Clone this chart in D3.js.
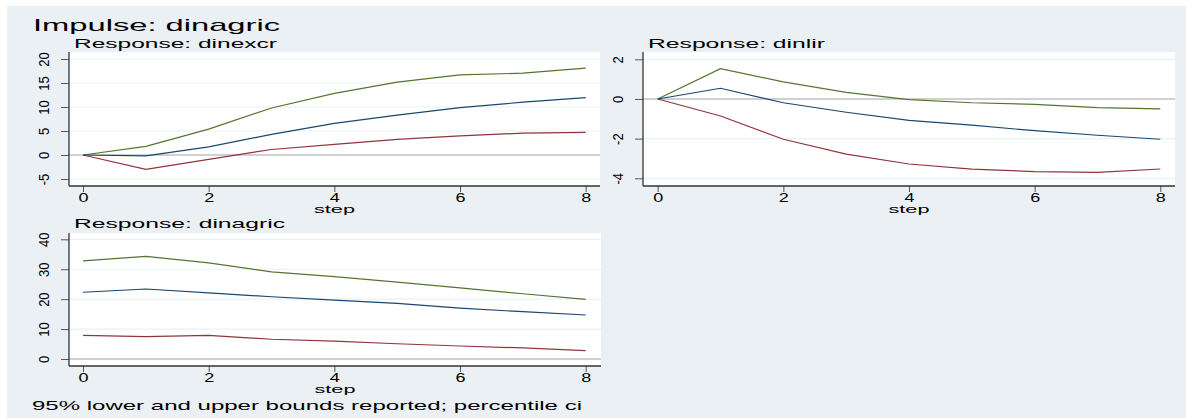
<!DOCTYPE html>
<html>
<head>
<meta charset="utf-8">
<script src="https://cdn.jsdelivr.net/npm/d3@7"></script>
<style>
  body { margin: 0; background: #fff; }
  svg { display: block; font-family: "Liberation Sans", Arial, sans-serif; }
</style>
</head>
<body>
<svg width="1186" height="419"></svg>
<script>
// impulse: dinagric, steps 0..8
const steps = [0, 1, 2, 3, 4, 5, 6, 7, 8];

const dinexcrIrf   = [0, -0.2, 1.7, 4.3, 6.6, 8.3, 9.85, 11.0, 11.95];
const dinexcrLower = [0, -3.0, -0.9, 1.15, 2.2, 3.25, 4.0, 4.55, 4.7];
const dinexcrUpper = [0, 1.8, 5.4, 9.8, 12.85, 15.2, 16.7, 17.05, 18.1];

const dinlirIrf   = [0, 0.54, -0.19, -0.67, -1.08, -1.32, -1.6, -1.83, -2.03];
const dinlirLower = [0, -0.86, -2.03, -2.78, -3.28, -3.54, -3.66, -3.7, -3.53];
const dinlirUpper = [0, 1.53, 0.86, 0.33, -0.03, -0.19, -0.27, -0.44, -0.5];

const dinagricIrf   = [22.3, 23.4, 22.1, 20.8, 19.7, 18.6, 17.0, 15.8, 14.7];
const dinagricLower = [7.9, 7.5, 7.9, 6.6, 6.0, 5.1, 4.35, 3.7, 2.8];
const dinagricUpper = [32.8, 34.3, 32.1, 29.1, 27.5, 25.7, 23.8, 21.8, 19.9];

const xTicks = [0, 2, 4, 6, 8];
const panels = [
  { title: "Response: dinexcr", tw: 203, ty: 48, irf: dinexcrIrf, lo: dinexcrLower, hi: dinexcrUpper,
    yTicks: [-5, 0, 5, 10, 15, 20], yTickLabels: ["-5", "0", "5", "10", "15", "20"],
    box: { x0: 69, x1: 600, y0: 52, y1: 186 }, xr: [83, 585.7], yd: [-5, 20], yr: [179, 59] },
  { title: "Response: dinlir", tw: 177, ty: 48, irf: dinlirIrf, lo: dinlirLower, hi: dinlirUpper,
    yTicks: [-4, -2, 0, 2], yTickLabels: ["-4", "-2", "0", "2"],
    box: { x0: 643, x1: 1175, y0: 52, y1: 186 }, xr: [657.7, 1160.3], yd: [-4, 2], yr: [178.3, 59.3] },
  { title: "Response: dinagric", tw: 211, ty: 228, irf: dinagricIrf, lo: dinagricLower, hi: dinagricUpper,
    yTicks: [0, 10, 20, 30, 40], yTickLabels: ["0", "10", "20", "30", "40"],
    box: { x0: 69, x1: 601, y0: 233, y1: 366 }, xr: [83, 585.7], yd: [0, 40], yr: [359, 239.3] }
];

const colors = { irf: "#1a476f", lo: "#90353b", hi: "#55752f" };

const svg = d3.select("svg");
svg.append("rect").attr("x", 7).attr("y", 6).attr("width", 1179).attr("height", 412).attr("fill", "#eaf0f3");

svg.append("text").attr("x", 33).attr("y", 31).attr("font-size", 17).attr("fill", "#000")
  .attr("textLength", 247).attr("lengthAdjust", "spacingAndGlyphs")
  .text("Impulse: dinagric");
svg.append("text").attr("x", 32).attr("y", 410).attr("font-size", 13).attr("fill", "#000")
  .attr("textLength", 550).attr("lengthAdjust", "spacingAndGlyphs")
  .text("95% lower and upper bounds reported; percentile ci");

panels.forEach(function (p) {
  const b = p.box;
  const x = d3.scaleLinear().domain([0, 8]).range(p.xr);
  const y = d3.scaleLinear().domain(p.yd).range(p.yr);
  const g = svg.append("g");

  g.append("rect").attr("x", b.x0).attr("y", b.y0).attr("width", b.x1 - b.x0).attr("height", b.y1 - b.y0)
    .attr("fill", "#fff");

  // grid
  g.selectAll(".grid").data(p.yTicks).enter().append("line")
    .attr("x1", b.x0).attr("x2", b.x1)
    .attr("y1", d => y(d)).attr("y2", d => y(d))
    .attr("stroke", "#eaf2f3").attr("stroke-width", 1.2);

  // zero line
  g.append("line").attr("x1", b.x0).attr("x2", b.x1).attr("y1", y(0)).attr("y2", y(0))
    .attr("stroke", "#c4c4c4").attr("stroke-width", 1.6);

  const line = d3.line().x((d, i) => x(steps[i])).y(d => y(d));
  [["lo", p.lo], ["hi", p.hi], ["irf", p.irf]].forEach(function (s) {
    g.append("path").datum(s[1]).attr("d", line).attr("fill", "none")
      .attr("stroke", colors[s[0]]).attr("stroke-width", 1.2);
  });

  // y axis
  const ya = g.append("g").attr("transform", "translate(" + b.x0 + ",0)")
    .call(d3.axisLeft(y).tickValues(p.yTicks).tickSize(8).tickPadding(3)
      .tickFormat((d, i) => p.yTickLabels[i]));
  ya.select(".domain").remove();
  ya.selectAll(".tick line").attr("stroke", "#555");
  ya.selectAll(".tick text").attr("font-size", 13).attr("fill", "#000")
    .attr("text-anchor", "middle").attr("x", 0).attr("y", 0).attr("dy", 0)
    .attr("dominant-baseline", "middle")
    .attr("transform", "translate(-24,0) scale(1.1,1) rotate(-90)");

  // x axis
  const xa = g.append("g").attr("transform", "translate(0," + b.y1 + ")")
    .call(d3.axisBottom(x).tickValues(xTicks).tickSize(6).tickPadding(1));
  xa.select(".domain").remove();
  xa.selectAll(".tick line").attr("stroke", "#555");
  xa.selectAll(".tick text").attr("font-size", 12).attr("fill", "#000")
    .attr("transform", "scale(1.5,1)");

  g.append("line").attr("x1", b.x0).attr("x2", b.x0).attr("y1", b.y0).attr("y2", b.y1)
    .attr("stroke", "#333").attr("stroke-width", 1.3);
  g.append("line").attr("x1", b.x0).attr("x2", b.x1).attr("y1", b.y1).attr("y2", b.y1)
    .attr("stroke", "#333").attr("stroke-width", 1.3);

  g.append("text").attr("x", (b.x0 + b.x1) / 2).attr("y", b.y1 + 27).attr("text-anchor", "middle")
    .attr("font-size", 11.5).attr("fill", "#000")
    .attr("textLength", 41).attr("lengthAdjust", "spacingAndGlyphs").text("step");
  g.append("text").attr("x", b.x0 + 5).attr("y", p.ty).attr("font-size", 12).attr("fill", "#000")
    .attr("textLength", p.tw).attr("lengthAdjust", "spacingAndGlyphs")
    .text(p.title);
});
</script>
</body>
</html>
